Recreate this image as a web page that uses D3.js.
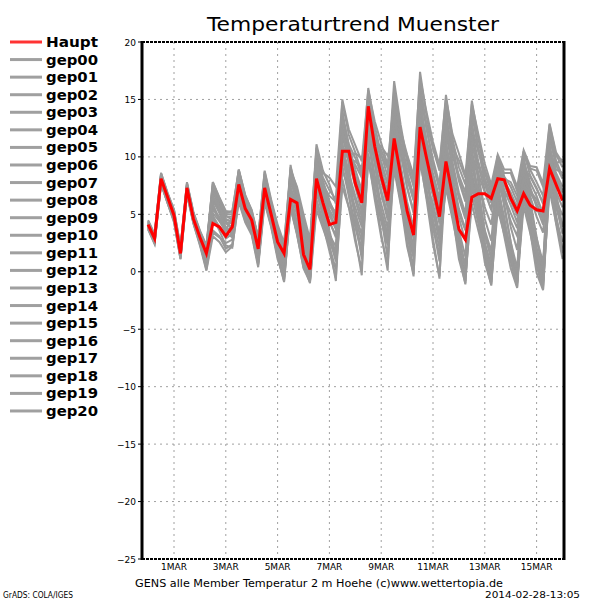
<!DOCTYPE html>
<html><head><meta charset="utf-8">
<script src="https://cdnjs.cloudflare.com/ajax/libs/d3/7.8.5/d3.min.js"></script>
<style>body{margin:0;background:#fff}svg{display:block}text{font-family:"DejaVu Sans","Liberation Sans",sans-serif}</style>
</head><body><svg id="c" width="600" height="600"></svg>
<script>
// time: days relative to 1 MAR 00Z, 6-hourly steps
const startDay = -1, stepDays = 0.25;
const xTickDays = [0, 2, 4, 6, 8, 10, 12, 14];
const xTickLabels = ["1MAR","3MAR","5MAR","7MAR","9MAR","11MAR","13MAR","15MAR"];
const yTicks = [20, 15, 10, 5, 0, -5, -10, -15, -20, -25];
const title = "Temperaturtrend  Muenster";
const footer = "GENS  alle  Member  Temperatur  2  m  Hoehe  (c)www.wettertopia.de";
const stamp = "2014-02-28-13:05";
const credit = "GrADS: COLA/IGES";

const haupt = [4.1,2.9,8.1,6.5, 4.9,1.6,7.3,4.6, 3.0,1.6,4.2,3.9, 3.1,3.9,7.6,5.5, 4.5,2.0,7.3,5.0, 2.6,1.6,6.3,6.0, 1.5,0.2,8.1,6.0, 4.1,4.3,10.5,10.5, 7.7,6.0,14.4,10.9, 8.3,6.2,11.6,8.4, 5.3,3.2,12.6,9.9, 7.3,4.8,9.6,6.7, 3.7,2.8,6.5,6.8, 6.8,6.4,8.1,8.0, 6.4,5.3,6.8,5.8, 5.4,5.3,9.0,7.6, 6.2];
const gep00 = [4.3,3.0,8.3,6.6, 5.0,1.8,7.5,4.8, 3.2,1.8,4.5,4.0, 3.3,4.1,7.9,5.7, 4.6,2.2,7.6,5.3, 2.9,1.3,6.8,5.4, 2.1,0.8,8.9,6.8, 4.9,3.7,11.8,9.6, 7.4,5.2,13.6,10.2, 7.9,5.6,12.9,9.3, 6.1,3.9,13.8,10.4, 7.7,5.5,10.8,7.9, 5.1,3.6,9.2,7.0, 3.6,1.8,8.7,6.4, 4.4,3.1,8.9,6.6, 4.8,3.4,10.6,8.1, 6.9];
const gep01 = [3.9,2.7,7.9,6.2, 4.6,1.4,7.0,4.4, 2.8,1.2,6.3,5.1, 3.9,3.2,7.2,5.0, 3.8,1.5,6.9,4.6, 2.2,0.4,7.2,4.9, 1.8,-0.3,7.4,5.1, 2.9,0.9,9.2,6.6, 4.1,2.0,10.3,7.2, 4.4,2.3,8.9,5.9, 3.4,1.2,9.6,6.5, 3.8,1.5,7.9,5.2, 2.4,0.6,7.4,4.8, 2.1,0.2,6.9,4.1, 1.6,-0.4,6.3,3.9, 1.2,-0.9,7.1,4.3, 2.0];
const gep02 = [4.5,3.3,8.6,6.9, 5.4,2.2,7.8,5.2, 3.6,2.3,7.6,6.1, 4.9,4.5,8.4,6.2, 5.1,2.8,8.5,5.9, 3.6,1.9,8.1,6.0, 3.4,1.9,10.2,7.9, 6.2,4.8,13.9,11.0, 8.9,7.1,15.2,12.1, 9.6,7.7,14.8,11.2, 8.4,6.2,15.9,12.4, 9.8,7.6,13.6,10.4, 7.9,6.1,11.8,9.2, 7.1,5.4,9.8,7.6, 6.2,4.9,9.6,7.8, 6.6,5.0,11.9,9.3, 8.1];
const gep03 = [4.0,2.6,8.0,6.4, 4.8,1.3,7.2,4.5, 2.6,0.6,3.4,3.0, 2.5,2.8,6.9,5.2, 4.0,1.1,6.8,4.7, 1.9,-0.5,6.1,3.9, 0.9,-0.8,6.3,4.4, 2.6,1.4,8.8,7.3, 5.6,3.9,11.7,8.4, 5.9,3.8,10.4,7.2, 4.6,2.2,10.9,7.8, 5.9,3.4,8.4,5.3, 2.2,-0.4,5.9,3.6, 1.4,-0.9,5.4,3.3, 2.0,-0.6,6.8,4.5, 2.7,0.6,8.2,5.6, 4.1];
const gep04 = [4.2,2.8,8.2,6.3, 4.7,1.5,7.4,4.9, 3.3,1.9,7.8,6.5, 5.3,5.2,8.9,6.7, 5.3,2.9,8.0,5.6, 3.3,1.5,7.7,6.6, 4.1,2.4,11.1,8.8, 7.6,5.9,14.8,11.9, 10.4,8.6,16.0,12.7, 10.2,8.3,16.6,12.8, 9.6,7.4,17.4,13.6, 10.7,8.8,15.4,11.6, 9.1,7.6,14.9,11.6, 8.6,6.9,10.1,8.3, 7.4,6.1,10.5,8.9, 7.8,6.6,12.8,10.2, 9.1];
const gep05 = [3.7,2.5,7.6,6.0, 4.4,1.2,6.8,4.2, 2.4,0.4,5.1,4.4, 3.6,3.4,7.0,5.0, 3.6,0.9,6.6,4.3, 1.7,-0.2,5.8,3.6, 1.2,-0.5,6.8,5.3, 4.3,3.2,10.7,8.1, 6.2,4.3,12.4,9.4, 6.8,4.5,11.6,8.3, 5.2,2.9,12.0,8.6, 6.6,4.2,9.7,6.5, 2.9,0.2,8.6,5.9, 2.4,-0.2,7.6,4.2, 2.0,-0.8,7.4,5.0, 1.9,-0.4,8.8,6.3, 4.9];
const gep06 = [4.4,3.1,8.4,6.7, 5.2,1.9,7.6,5.0, 3.4,2.1,6.9,5.8, 4.6,4.3,8.2,6.1, 4.9,2.5,8.2,5.5, 3.1,0.9,8.6,6.7, 3.8,1.6,9.8,7.3, 5.2,3.9,12.6,10.1, 8.1,6.5,14.9,11.4, 8.7,6.8,13.7,10.6, 7.3,5.1,14.6,11.2, 8.6,6.4,12.1,9.1, 6.6,4.8,12.3,9.6, 7.6,6.0,9.4,7.1, 5.8,4.3,8.3,6.9, 5.9,4.5,10.4,8.6, 7.4];
const gep07 = [3.8,2.6,7.8,6.1, 4.5,1.3,7.1,4.4, 2.7,0.9,4.7,3.6, 2.3,2.1,6.3,4.4, 3.4,0.6,6.2,4.0, 1.4,-0.8,5.5,3.4, 0.6,-1.0,5.4,3.8, 2.2,0.2,7.4,5.6, 3.9,1.6,9.6,6.8, 4.6,2.6,10.1,6.9, 3.9,1.6,11.4,7.9, 5.2,2.7,8.9,5.8, 2.9,0.5,8.1,5.3, 2.5,0.6,6.6,4.3, 1.9,-0.3,7.6,4.8, 2.1,0.1,8.9,5.9, 3.3];
const gep08 = [4.1,2.9,8.1,6.5, 4.9,1.7,7.3,4.7, 3.1,1.7,6.1,5.3, 4.2,3.9,7.7,5.6, 4.6,2.1,7.3,5.1, 2.7,1.0,7.4,5.8, 2.7,0.9,9.3,7.1, 5.7,5.2,10.6,9.8, 9.6,9.1,11.8,11.2, 10.1,9.0,12.4,10.4, 8.0,6.3,13.1,10.0, 7.1,4.6,11.2,8.4, 5.5,3.7,10.4,8.1, 5.6,4.1,8.4,6.5, 5.1,3.8,9.7,7.4, 5.6,4.1,9.6,8.0, 6.5];
const gep09 = [3.9,2.8,8.0,6.3, 4.7,1.5,7.2,4.5, 2.9,1.4,7.3,5.7, 4.4,3.6,7.4,5.3, 4.2,1.7,7.1,4.8, 2.4,0.2,9.3,6.2, 2.3,-0.2,10.6,7.0, 3.6,1.3,14.2,9.2, 4.6,1.1,15.6,9.6, 4.8,1.2,15.1,9.0, 3.3,0.3,16.2,9.4, 4.1,0.9,14.3,8.4, 3.3,0.2,13.4,7.7, 2.4,-0.6,9.3,5.6, 2.6,-0.5,10.1,6.3, 3.0,0.2,11.2,6.9, 3.9];
const gep10 = [4.2,3.0,8.2,6.6, 5.1,1.9,7.4,4.8, 3.0,1.5,5.9,4.6, 3.7,4.6,8.7,6.4, 5.2,3.0,8.7,6.1, 3.9,2.3,9.1,7.2, 4.3,2.5,9.9,7.8, 6.0,5.1,12.1,10.3, 9.3,8.2,14.1,11.7, 10.6,9.1,13.2,11.1, 9.9,8.1,15.1,12.9, 10.8,9.0,13.1,10.9, 9.7,8.2,12.6,10.4, 8.9,7.3,9.7,8.6, 8.6,7.0,10.2,9.0, 8.8,7.4,11.6,9.4, 9.8];
const gep11 = [4.0,2.7,7.7,6.0, 4.5,1.1,6.9,4.3, 2.5,0.2,3.6,3.1, 2.0,2.4,6.6,4.6, 3.5,0.7,6.4,4.1, 1.3,-0.9,5.9,3.3, 0.3,-0.9,7.8,5.1, 2.3,-0.8,11.3,6.8, 3.0,-0.3,12.8,7.1, 3.3,0.1,12.2,7.0, 2.6,-0.4,13.0,7.2, 2.9,-0.6,11.6,6.3, 1.6,-1.1,10.8,5.8, 1.2,-1.2,7.9,3.9, 0.9,-1.3,8.4,4.3, 0.5,-1.5,9.9,5.0, 1.6];
const gep12 = [4.3,3.2,8.5,6.8, 5.3,2.0,7.7,5.1, 3.5,2.2,7.1,6.0, 4.8,4.8,8.9,6.6, 5.4,3.0,8.8,6.3, 4.1,2.5,8.8,7.4, 5.0,2.8,10.5,8.2, 7.1,6.3,13.5,11.1, 9.9,8.4,13.9,10.9, 9.3,7.6,14.2,11.8, 10.1,8.0,14.3,11.5, 9.2,7.4,12.6,10.1, 8.4,6.9,13.8,10.7, 8.1,6.6,9.5,8.1, 7.8,6.6,9.1,8.3, 7.2,6.0,10.9,8.9, 8.6];
const gep13 = [3.8,2.5,7.8,6.2, 4.6,1.4,7.0,4.3, 2.6,0.8,5.6,4.5, 3.4,3.0,6.7,4.7, 3.3,0.8,6.5,4.4, 1.8,-0.4,6.6,4.3, 1.6,-0.6,7.9,5.6, 3.2,2.2,9.8,7.7, 5.1,3.2,11.2,8.1, 5.3,3.3,9.4,6.2, 3.9,1.7,10.3,7.1, 4.5,2.1,7.3,4.6, 1.8,-0.8,6.7,4.2, 1.6,-0.3,6.3,3.7, 1.1,-0.9,5.7,3.4, 0.9,-1.2,7.6,4.7, 2.6];
const gep14 = [4.1,3.0,8.3,6.4, 4.9,1.7,7.5,4.9, 3.3,2.0,7.4,6.2, 5.0,5.0,8.5,6.0, 4.8,2.4,7.8,5.4, 3.0,1.1,8.3,6.4, 3.1,1.2,9.6,7.5, 5.9,4.6,13.2,10.6, 8.4,6.9,14.6,11.1, 8.9,7.0,15.9,12.0, 8.7,6.6,16.4,12.6, 9.4,7.1,14.7,11.1, 8.2,6.4,14.2,10.8, 7.8,6.2,9.9,7.9, 6.9,5.6,10.4,8.4, 7.3,5.9,12.4,9.7, 8.3];
const gep15 = [3.9,2.7,7.9,6.2, 4.6,1.4,7.1,4.5, 2.8,1.1,4.9,3.9, 2.9,3.3,7.1,5.1, 3.9,1.3,6.9,4.6, 2.1,0.1,6.4,4.1, 1.4,-0.1,7.1,4.8, 3.0,1.8,10.2,7.4, 4.8,2.6,11.9,8.0, 5.1,2.9,11.1,7.6, 4.1,2.0,11.7,8.2, 5.3,3.0,10.3,6.9, 3.6,1.3,9.4,6.4, 3.2,1.1,7.2,4.8, 1.4,-1.0,7.9,5.3, 1.6,-0.8,9.2,6.1, 3.4];
const gep16 = [4.2,3.1,8.3,6.6, 5.0,1.8,7.4,4.7, 3.1,1.6,6.4,5.5, 4.3,4.2,8.0,5.9, 4.7,2.3,7.9,5.4, 3.2,1.2,7.9,6.2, 3.3,1.3,8.6,6.9, 5.4,4.4,12.2,9.9, 7.8,6.1,13.2,10.6, 8.2,6.4,13.6,10.3, 7.4,5.3,14.9,11.3, 8.2,6.1,12.8,9.6, 6.9,5.1,11.2,8.6, 4.6,2.7,8.9,7.0, 3.9,1.9,9.2,7.2, 5.9,4.6,10.1,8.3, 7.1];
const gep17 = [4.0,2.8,8.0,6.3, 4.8,1.6,7.2,4.6, 2.9,1.3,5.4,4.8, 3.8,3.7,7.5,5.4, 4.4,1.9,7.2,5.0, 2.5,0.6,7.0,5.5, 2.6,0.5,8.4,6.3, 4.4,3.0,11.1,8.6, 6.6,4.8,12.9,9.7, 7.1,5.0,12.0,8.8, 5.6,3.4,12.6,9.1, 7.1,4.9,10.1,7.3, 4.7,2.7,9.9,7.0, 3.5,1.2,8.0,5.9, 2.6,0.3,8.6,5.8, 2.9,0.8,9.4,7.0, 5.6];
const gep18 = [4.4,3.2,8.6,6.8, 5.4,2.1,7.7,5.1, 3.5,2.2,7.8,6.4, 5.1,5.3,8.8,6.5, 5.0,2.6,8.3,5.8, 3.5,1.7,8.9,6.9, 4.6,2.1,10.8,8.6, 8.2,7.4,15.0,12.4, 11.0,9.6,15.8,13.1, 11.2,9.3,15.2,12.3, 10.2,8.4,16.9,13.9, 11.3,9.3,15.1,12.0, 10.3,8.4,14.6,12.0, 9.4,7.6,10.2,8.9, 8.9,7.4,10.6,9.2, 9.1,7.7,12.9,10.4, 9.5];
const gep19 = [3.7,2.4,7.7,6.0, 4.3,1.1,6.7,4.2, 2.3,0.1,3.1,2.6, 1.7,2.2,6.1,4.3, 3.2,0.4,6.0,3.9, 1.1,-0.6,5.6,3.2, 0.4,-0.7,5.9,4.1, 1.8,-0.5,8.1,5.6, 2.6,0.2,10.0,6.3, 3.0,0.6,9.4,6.1, 2.2,-0.2,9.9,6.3, 2.4,-0.4,8.6,5.1, 1.1,-1.0,8.0,4.6, 0.8,-1.1,6.1,3.1, 0.3,-1.4,6.7,3.6, -0.1,-1.6,7.9,4.2, 1.1];
const gep20 = [4.2,3.1,8.4,6.6, 5.1,1.9,7.5,4.9, 3.3,1.9,6.6,5.6, 4.5,4.4,8.1,6.0, 4.8,2.4,8.0,5.7, 3.4,1.4,8.4,6.9, 3.9,1.8,9.1,7.6, 6.6,6.1,10.9,10.1, 10.3,9.9,11.6,11.3, 10.9,10.1,11.9,10.9, 9.1,7.6,12.3,10.8, 8.1,5.9,10.6,8.9, 6.4,4.6,10.1,8.5, 6.9,5.4,7.9,6.8, 6.6,5.1,8.1,7.0, 6.3,5.1,9.1,7.9, 6.9];

const memberNames = ["gep00","gep01","gep02","gep03","gep04","gep05","gep06","gep07","gep08","gep09","gep10","gep11","gep12","gep13","gep14","gep15","gep16","gep17","gep18","gep19","gep20"];
const members = [gep00,gep01,gep02,gep03,gep04,gep05,gep06,gep07,gep08,gep09,gep10,gep11,gep12,gep13,gep14,gep15,gep16,gep17,gep18,gep19,gep20];

const svg = d3.select("#c");
const L = 142, R = 564, T = 42, B = 559;
const x = d3.scaleLinear().domain([-1.236, 15.058]).range([L, R]);
const y = d3.scaleLinear().domain([-25, 20]).range([B, T]);
const grey = "#a0a0a0";

// grid
svg.append("g").selectAll("line").data(yTicks.filter(v => v > -25 && v < 20)).join("line")
  .attr("x1", L).attr("x2", R).attr("y1", d => y(d)).attr("y2", d => y(d))
  .attr("stroke", grey).attr("stroke-width", 1).attr("stroke-dasharray", "2,4");
svg.append("g").selectAll("line").data(xTickDays).join("line")
  .attr("x1", d => x(d)).attr("x2", d => x(d)).attr("y1", T).attr("y2", B)
  .attr("stroke", grey).attr("stroke-width", 1).attr("stroke-dasharray", "2,4");

// series
const line = d3.line().x((d, i) => x(startDay + i * stepDays)).y(d => y(d));
svg.append("g").selectAll("path").data(members).join("path")
  .attr("d", line).attr("fill", "none").attr("stroke", "#999999").attr("stroke-width", 2)
  .attr("stroke-linejoin", "miter");
svg.append("path").datum(haupt).attr("d", line).attr("fill", "none")
  .attr("stroke", "#ff0000").attr("stroke-width", 3).attr("stroke-linejoin", "miter");

// frame
svg.append("line").attr("x1", L).attr("x2", R).attr("y1", T).attr("y2", T).attr("stroke", "#000").attr("stroke-width", 2).attr("stroke-dasharray", "3,1");
svg.append("line").attr("x1", L).attr("x2", R).attr("y1", B).attr("y2", B).attr("stroke", "#000").attr("stroke-width", 2).attr("stroke-dasharray", "3,1");
svg.append("line").attr("x1", L).attr("x2", L).attr("y1", T - 1).attr("y2", B + 1).attr("stroke", "#000").attr("stroke-width", 3);
svg.append("line").attr("x1", R).attr("x2", R).attr("y1", T - 1).attr("y2", B + 1).attr("stroke", "#000").attr("stroke-width", 3);

// y axis labels + ticks
const ya = svg.append("g");
ya.selectAll("line").data(yTicks).join("line")
  .attr("x1", L - 4).attr("x2", L).attr("y1", d => y(d)).attr("y2", d => y(d))
  .attr("stroke", "#000").attr("stroke-width", 1);
ya.selectAll("text").data(yTicks).join("text")
  .attr("x", L - 6).attr("y", d => y(d) + 3.5).attr("text-anchor", "end")
  .attr("font-size", 9).attr("fill", "#000").text(d => d < 0 ? "\u2212" + Math.abs(d) : d);

// x labels
svg.append("g").selectAll("text").data(xTickDays).join("text")
  .attr("x", d => x(d)).attr("y", 570).attr("text-anchor", "middle")
  .attr("font-size", 9).attr("fill", "#000").text((d, i) => xTickLabels[i]);

// title
svg.append("text").attr("x", 353).attr("y", 31).attr("text-anchor", "middle")
  .attr("font-size", 19).attr("fill", "#000").attr("textLength", 292).attr("lengthAdjust", "spacingAndGlyphs")
  .text(title);

// legend
const legNames = ["Haupt"].concat(memberNames);
const lg = svg.append("g").selectAll("g").data(legNames).join("g")
  .attr("transform", (d, i) => `translate(0,${42 + i * 17.57})`);
lg.append("line").attr("x1", 10).attr("x2", 42).attr("y1", 0).attr("y2", 0)
  .attr("stroke", (d, i) => i === 0 ? "#ff3333" : grey).attr("stroke-width", 3);
lg.append("text").attr("x", 46).attr("y", 5).attr("font-size", 14).attr("font-weight", "bold")
  .attr("fill", "#000").attr("textLength", 52).attr("lengthAdjust", "spacingAndGlyphs").text(d => d);

// footer
svg.append("text").attr("x", 135).attr("y", 587).attr("font-size", 10).attr("fill", "#000")
  .attr("textLength", 368).attr("lengthAdjust", "spacingAndGlyphs").text(footer);
svg.append("text").attr("x", 580).attr("y", 598).attr("text-anchor", "end").attr("font-size", 9).attr("fill", "#000")
  .attr("textLength", 95).attr("lengthAdjust", "spacingAndGlyphs").text(stamp);
svg.append("text").attr("x", 3).attr("y", 598).attr("font-size", 8).attr("fill", "#000")
  .attr("textLength", 70).attr("lengthAdjust", "spacingAndGlyphs").text(credit);
</script></body></html>
